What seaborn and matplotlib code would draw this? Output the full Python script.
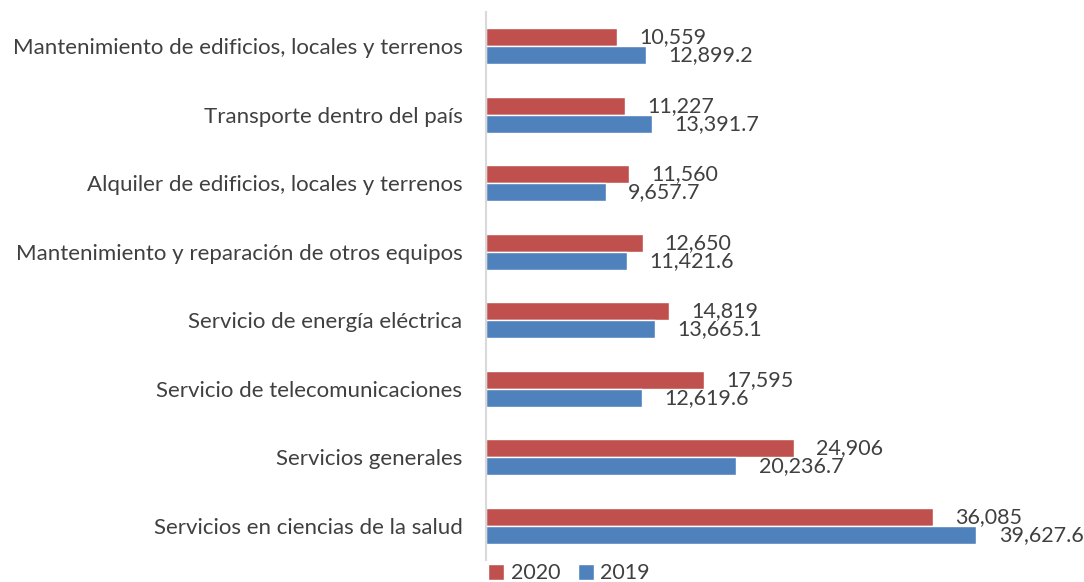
import matplotlib
matplotlib.use("Agg")
import matplotlib.pyplot as plt
import seaborn as sns
import pandas as pd

categories = [
    "Mantenimiento de edificios, locales y terrenos",
    "Transporte dentro del país",
    "Alquiler de edificios, locales y terrenos",
    "Mantenimiento y reparación de otros equipos",
    "Servicio de energía eléctrica",
    "Servicio de telecomunicaciones",
    "Servicios generales",
    "Servicios en ciencias de la salud",
]
values_2020 = [10559, 11227, 11560, 12650, 14819, 17595, 24906, 36085]
values_2019 = [12899.2, 13391.7, 9657.7, 11421.6, 13665.1, 12619.6, 20236.7, 39627.6]
labels_2020 = ["10,559", "11,227", "11,560", "12,650", "14,819", "17,595", "24,906", "36,085"]
labels_2019 = ["12,899.2", "13,391.7", "9,657.7", "11,421.6", "13,665.1", "12,619.6", "20,236.7", "39,627.6"]
years = ["2020", "2019"]

sns.set_theme(style="white")
plt.rcParams["font.family"] = ["Lato", "DejaVu Sans"]
text_color = "#404040"

df = pd.DataFrame({
    "cat": categories * 2,
    "value": values_2020 + values_2019,
    "year": [years[0]] * len(categories) + [years[1]] * len(categories),
})

fig = plt.figure(figsize=(10.84, 5.82), dpi=100)
ax = fig.add_axes([486 / 1084, 22 / 582, (1040 - 486) / 1084, 548 / 582])

palette = {"2020": "#C0504D", "2019": "#4F81BD"}
sns.barplot(data=df, y="cat", x="value", hue="year", hue_order=years,
            order=categories, palette=palette, orient="h", width=0.52,
            saturation=1, ax=ax, legend=True)

for container, labels in zip(ax.containers, [labels_2020, labels_2019]):
    ax.bar_label(container, labels=labels, padding=16, fontsize=15.5, color=text_color)

ax.set_xlim(0, 44760)
ax.set_ylim(7.5, -0.5)
ax.set_xlabel("")
ax.set_ylabel("")
ax.set_xticks([])
ax.tick_params(axis="y", length=0, pad=17, labelsize=16, labelcolor=text_color)
for s in ["top", "right", "bottom"]:
    ax.spines[s].set_visible(False)
ax.spines["left"].set_color("#D9D9D9")
ax.spines["left"].set_linewidth(1.5)

handles, lbls = ax.get_legend_handles_labels()
ax.legend(handles, lbls, loc="lower center", bbox_to_anchor=(569 / 1084, -0.002),
          bbox_transform=fig.transFigure, ncol=2, frameon=False, fontsize=15.5,
          handlelength=0.75, handleheight=0.75, handletextpad=0.3, columnspacing=0.8,
          borderaxespad=0.0, borderpad=0.0, labelcolor=text_color)

fig.savefig("out.png", dpi=100, facecolor="white")
